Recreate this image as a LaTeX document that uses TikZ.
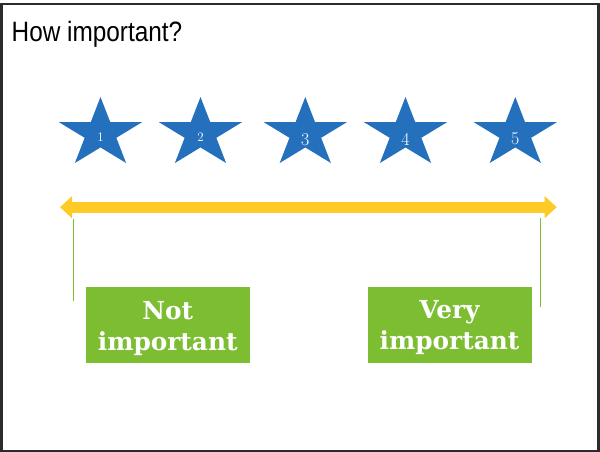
\documentclass[tikz,border=0pt]{standalone}
\usepackage{fontspec}
\usepackage{graphicx}
\newfontfamily\titlefont{Liberation Sans}
\newfontfamily\boxfont{DejaVu Serif}
\usetikzlibrary{arrows.meta}
\definecolor{starblue}{HTML}{2470BD}
\definecolor{arrowyellow}{HTML}{FDCA26}
\definecolor{boxgreen}{HTML}{7CBD32}
\definecolor{framegray}{HTML}{2B2B2B}
\newcommand{\boxtext}[2]{\raisebox{-3pt}[\height][\depth]{\begin{tabular}{@{}c@{}}#1\\#2\end{tabular}}}
\begin{document}
\begin{tikzpicture}[x=1pt,y=-1pt,
  numlabel/.style={text=white, inner sep=0pt},
  labelbox/.style={fill=boxgreen, text=white, font=\boxfont\bfseries\fontsize{24.8}{31}\selectfont,
    align=center, minimum width=164pt, minimum height=76pt, inner sep=0pt},
  tickline/.style={draw=boxgreen, line width=1pt},
  scalearrow/.style={draw=arrowyellow, line width=11pt,
    {Triangle[length=12pt,width=21.3pt]}-{Triangle[length=12pt,width=21.3pt]}}
]
\useasboundingbox (0,0) rectangle (600,452);
\draw[line width=2.5pt, draw=framegray] (1.5,3.8) rectangle (598.5,450.8);
\node[anchor=base west, inner sep=0pt] (title) at (11.5,41.7)
  {\titlefont\fontsize{28}{32}\selectfont\scalebox{0.87}[1]{How important?}};
\foreach \cx/\n/\fs/\ny in {100.5/1/13/137.4, 200.5/2/13/137.4, 305.3/3/18/139.2, 405.5/4/18/139.2, 515.3/5/18/139.2} {
  \fill[starblue] (\cx,97) \foreach \k in {1,...,9}{
     -- ({\cx+43.6*(1-0.618*mod(\k,2))*cos(-90+36*\k)},{133.5+36.5*(1-0.618*mod(\k,2))*sin(-90+36*\k)}) } -- cycle;
  \node[numlabel, font=\fontsize{\fs}{\fs}\selectfont] (s\n) at (\cx,\ny) {\n};
}
\coordinate (la) at (60,207.2);
\coordinate (ra) at (556.7,207.2);
\draw[scalearrow] (la) -- (ra);
\coordinate (lt1) at (73.3,219);
\coordinate (lt2) at (73.3,301);
\coordinate (rt1) at (540.3,218);
\coordinate (rt2) at (540.3,307);
\draw[tickline] (lt1) -- (lt2);
\draw[tickline] (rt1) -- (rt2);
\node[labelbox] (notimp) at (167.7,325.3) {\boxtext{Not}{important}};
\node[labelbox] (veryimp) at (449.5,325) {\boxtext{Very}{important}};
\end{tikzpicture}
\end{document}
